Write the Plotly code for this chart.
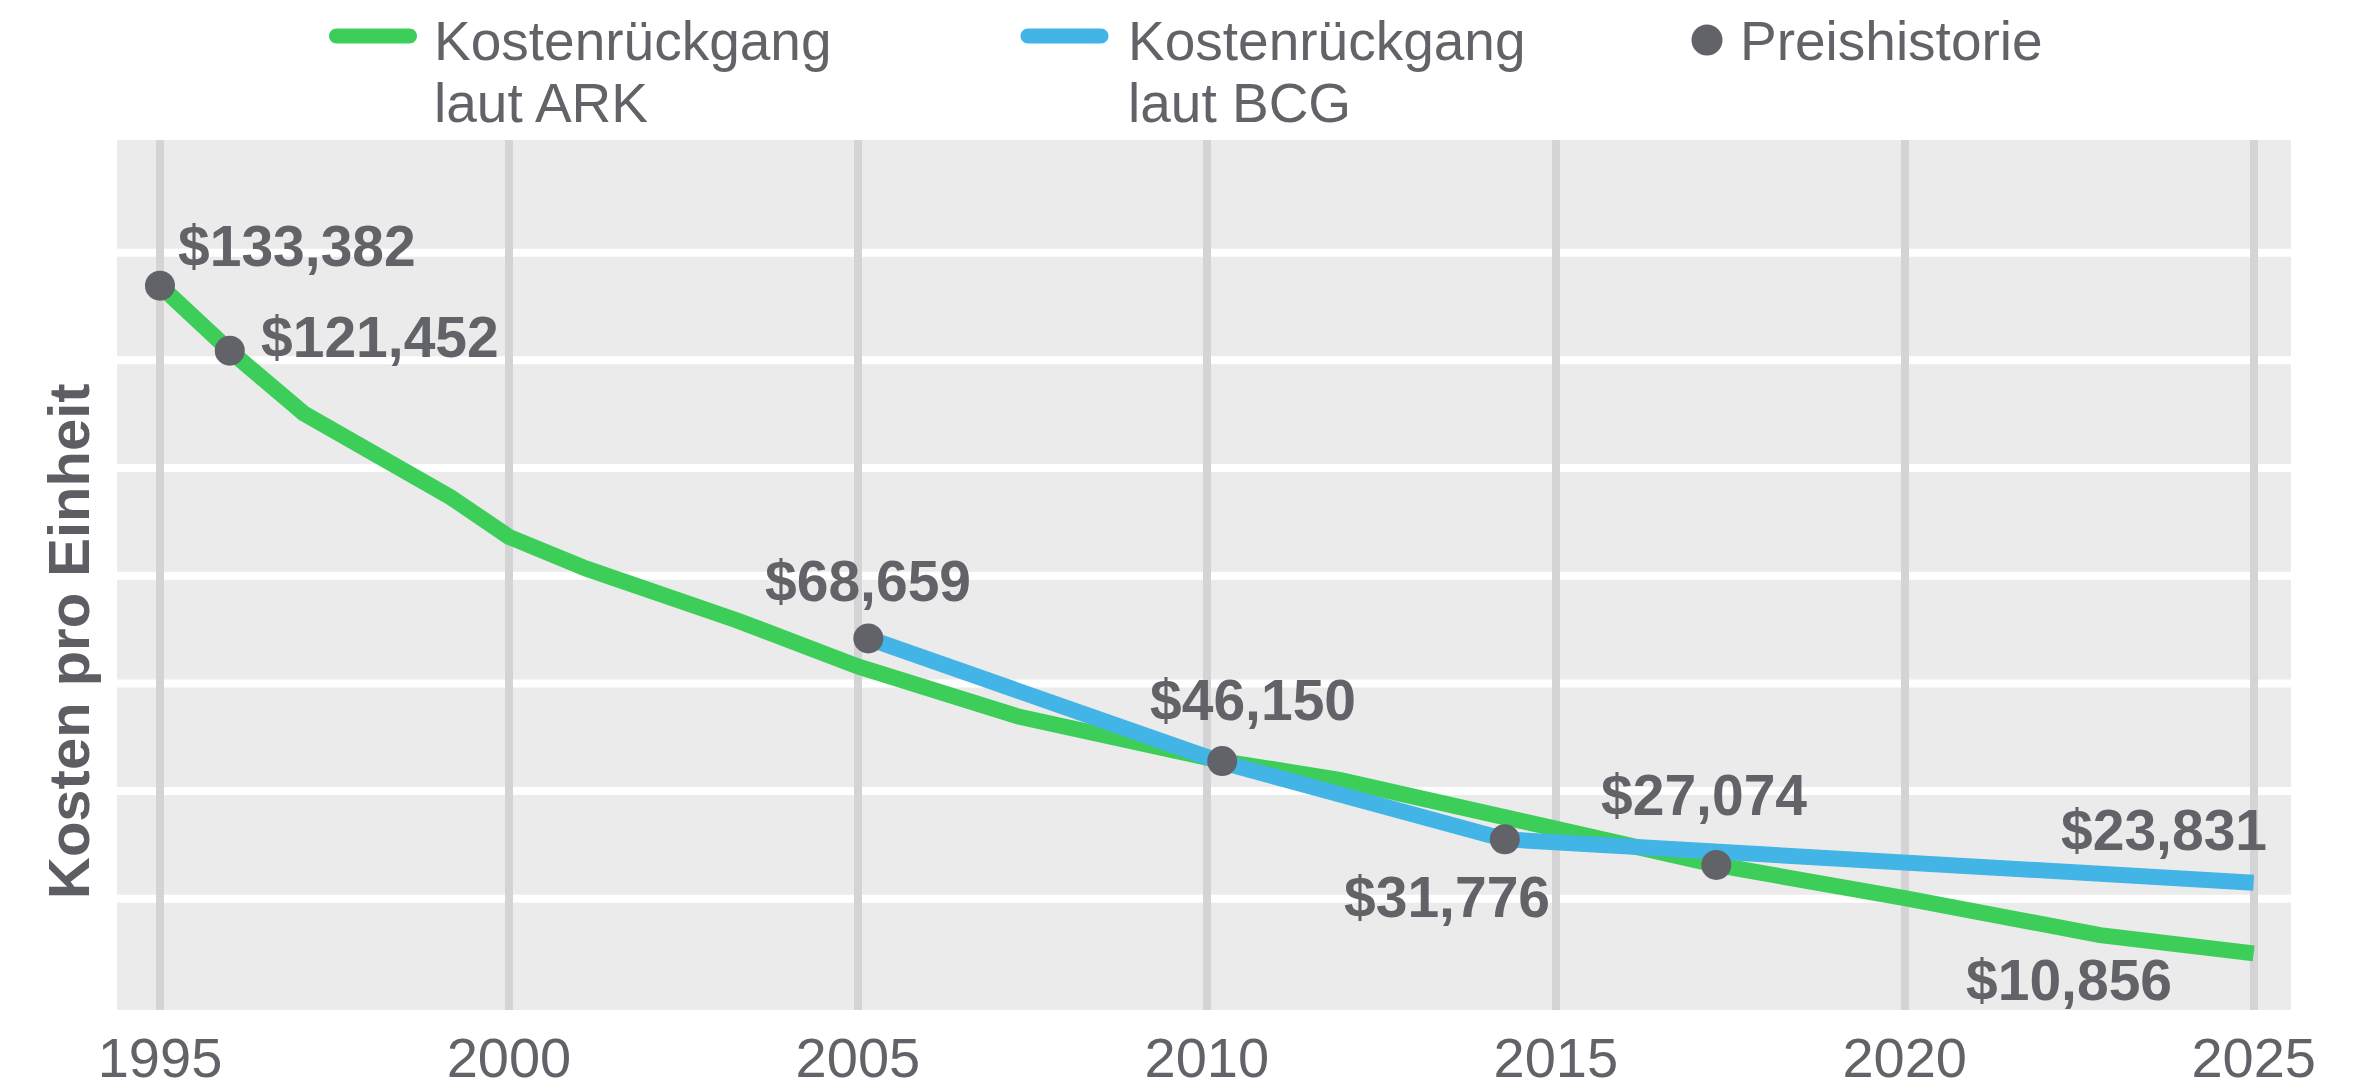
import plotly.graph_objects as go

# ---------------- data ----------------
years_ark = [1995.0, 1996.0, 1997.06, 1999.16, 2000.0, 2001.1, 2003.26, 2005.0,
             2007.3, 2010.22, 2011.9, 2017.3, 2020.0, 2022.8, 2025.0]
cost_ark = [133382, 121452, 109960, 94600, 87300, 81500, 72000, 63500,
            54300, 46150, 42700, 27074, 21000, 14200, 10856]

years_bcg = [2005.15, 2010.22, 2014.27, 2020.0, 2025.0]
cost_bcg = [68659, 45900, 31776, 27700, 23831]

years_price = [1995.0, 1996.0, 2005.15, 2010.22, 2014.27, 2017.3]
price = [133382, 121452, 68659, 46150, 31776, 27074]

x_ticks = [1995, 2000, 2005, 2010, 2015, 2020, 2025]

legend_names = ["Kostenrückgang<br>laut ARK", "Kostenrückgang<br>laut BCG", "Preishistorie"]
y_title = "Kosten pro Einheit"

# ---------------- style ----------------
W, H = 2361, 1091
ML, MR, MT, MB = 117, 70, 140, 81
PW, PH = W - ML - MR, H - MT - MB
GREEN = "#3dce5a"
BLUE = "#42b4e6"
GREY = "#626368"
TEXT = "#626368"
BG = "#ebebeb"
VGRID = "#d4d4d6"
FONT = "Liberation Sans, Arial, sans-serif"

def px(x):
    return (x - ML) / PW

def py(y):
    return (H - MB - y) / PH

fig = go.Figure()
fig.add_trace(go.Scatter(x=years_ark, y=cost_ark, mode="lines", name="ARK",
                         line=dict(color=GREEN, width=16), hoverinfo="skip"))
fig.add_trace(go.Scatter(x=years_bcg, y=cost_bcg, mode="lines", name="BCG",
                         line=dict(color=BLUE, width=16), hoverinfo="skip"))
fig.add_trace(go.Scatter(x=years_price, y=price, mode="markers", name="Preishistorie",
                         marker=dict(color=GREY, size=30, line=dict(width=0))))

# data labels (offsets in pixels relative to their point)
label_style = [
    dict(xanchor="left", xshift=16, yshift=40),
    dict(xanchor="left", xshift=29, yshift=14),
    dict(xanchor="center", xshift=0, yshift=57),
    dict(xanchor="center", xshift=31, yshift=61),
    dict(xanchor="center", xshift=-58, yshift=-58),
    dict(xanchor="center", xshift=-12, yshift=70),
]
LBL = dict(size=57, color=TEXT, family=FONT)
for xv, yv, st in zip(years_price, price, label_style):
    fig.add_annotation(x=xv, y=yv, text=f"<b>${yv:,}</b>", showarrow=False, yanchor="middle",
                       font=LBL, **st)
fig.add_annotation(x=years_bcg[-1], y=cost_bcg[-1], text=f"<b>${cost_bcg[-1]:,}</b>", showarrow=False,
                   xanchor="right", yanchor="middle", xshift=15, yshift=53, font=LBL)
fig.add_annotation(x=years_ark[-1], y=cost_ark[-1], text=f"<b>${cost_ark[-1]:,}</b>", showarrow=False,
                   xanchor="right", yanchor="middle", xshift=-80, yshift=-27, font=LBL)

# y axis title
fig.add_annotation(xref="paper", yref="paper", x=px(68), y=py(641), text=f"<b>{y_title}</b>",
                   textangle=-90, showarrow=False, xanchor="center", yanchor="middle",
                   font=dict(size=58, color="#5d5e63", family=FONT))

shapes = []
# white horizontal reference lines, placed under the vertical grid
y_grid = [20880 + i * 19760 for i in range(7)]
for v in y_grid:
    shapes.append(dict(type="line", xref="paper", yref="y", x0=0, x1=1, y0=v, y1=v,
                       line=dict(color="white", width=8), layer="below"))

# custom legend
pill = ("M -36.5,-7.5 L 36.5,-7.5 C 40.64,-7.5 44,-4.14 44,0 C 44,4.14 40.64,7.5 36.5,7.5 "
        "L -36.5,7.5 C -40.64,7.5 -44,4.14 -44,0 C -44,-4.14 -40.64,-7.5 -36.5,-7.5 Z")
legend_items = [
    dict(kind="pill", color=GREEN, cx=373, cy=36, tx=432),
    dict(kind="pill", color=BLUE, cx=1064.5, cy=36, tx=1126),
    dict(kind="dot", color=GREY, cx=1707, cy=40, tx=1738),
]
for item, name in zip(legend_items, legend_names):
    if item["kind"] == "pill":
        shapes.append(dict(type="path", xref="paper", yref="paper", xsizemode="pixel",
                           ysizemode="pixel", xanchor=px(item["cx"]), yanchor=py(item["cy"]),
                           path=pill, fillcolor=item["color"], line=dict(width=0), layer="above"))
    else:
        shapes.append(dict(type="circle", xref="paper", yref="paper", xsizemode="pixel",
                           ysizemode="pixel", xanchor=px(item["cx"]), yanchor=py(item["cy"]),
                           x0=-15.5, x1=15.5, y0=-15.5, y1=15.5,
                           fillcolor=item["color"], line=dict(width=0), layer="above"))
    for i, line in enumerate(name.split("<br>")):
        fig.add_annotation(xref="paper", yref="paper", x=px(item["tx"]), y=py(41 + i * 61.6),
                           text=line, showarrow=False, xanchor="left", yanchor="middle",
                           font=dict(size=55, color=TEXT, family=FONT))

fig.update_layout(
    width=W, height=H,
    margin=dict(l=ML, r=MR, t=MT, b=MB, pad=0, autoexpand=False),
    paper_bgcolor="white", plot_bgcolor=BG,
    showlegend=False,
    shapes=shapes,
    font=dict(family=FONT, color=TEXT),
    xaxis=dict(range=[1994.384, 2025.535], tickmode="array", tickvals=x_ticks,
               ticktext=[str(t) for t in x_ticks], showgrid=True, automargin=False,
               gridcolor=VGRID, gridwidth=8, zeroline=False, showline=False, ticks="",
               ticklabelstandoff=10,
               tickfont=dict(size=56, color=TEXT, family=FONT), fixedrange=True),
    yaxis=dict(range=[459, 160121], showticklabels=False, automargin=False,
               showgrid=False, zeroline=False,
               showline=False, ticks="", fixedrange=True),
)

fig.write_html("out.html")
